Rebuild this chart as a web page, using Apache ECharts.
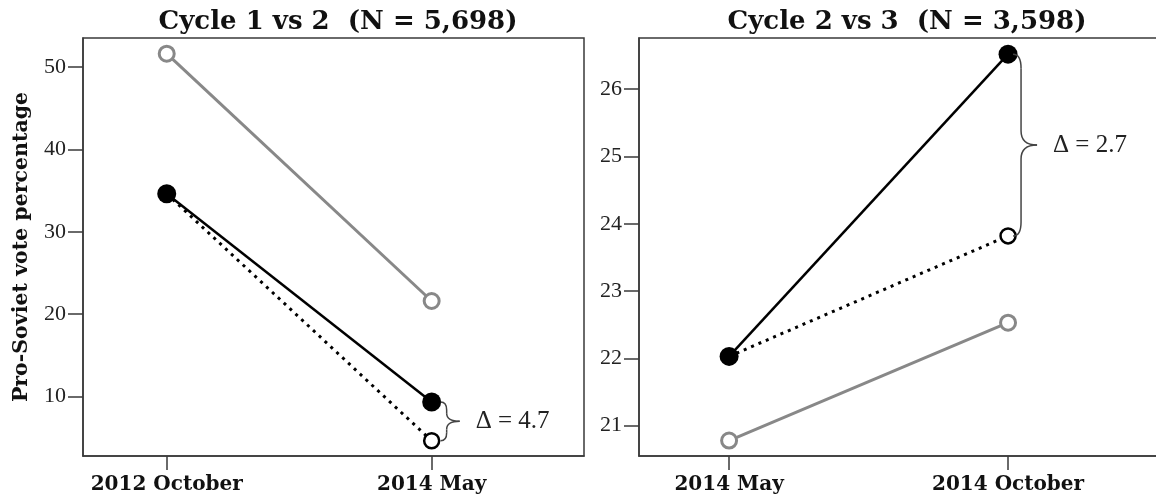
<!DOCTYPE html>
<html><head><meta charset="utf-8">
<script src="https://cdn.jsdelivr.net/npm/echarts@6/dist/echarts.min.js"></script>
<style>html,body{margin:0;padding:0;background:#fff}#c{width:1156px;height:497px}</style>
</head><body><div id="c"></div>
<script>
// ---- data ----
const titles = ['Cycle 1 vs 2  (N = 5,698)', 'Cycle 2 vs 3  (N = 3,598)'];
const yAxisName = 'Pro-Soviet vote percentage';
const catsLeft = ['2012 October', '2014 May'];
const catsRight = ['2014 May', '2014 October'];
const leftGray = [51.6, 21.6];
const leftBlack = [34.6, 9.35];
const leftDotted = [34.6, 4.65];
const rightGray = [20.78, 22.53];
const rightBlack = [22.03, 26.52];
const rightDotted = [22.03, 23.82];
const leftTicks = [10, 20, 30, 40, 50];
const rightTicks = [21, 22, 23, 24, 25, 26];
const deltaLabels = ['Δ = 4.7', 'Δ = 2.7'];

const pts = a => a.map((v, i) => [i, v]);
const axisCol = '#3a3a3a';
const serifB = 'DejaVu Serif';
const serif = 'Liberation Serif';

function xAxis(gi, cats, min, max) {
  return {
    type: 'value', gridIndex: gi, min: min, max: max,
    splitLine: {show: false},
    axisLine: {onZero: false, lineStyle: {color: axisCol, width: 1.5}},
    axisTick: {length: 14, lineStyle: {color: axisCol, width: 1.5}, customValues: cats.map((c, i) => i)},
    axisLabel: {customValues: cats.map((c, i) => i), formatter: v => cats[Math.round(v)] || '',
      fontFamily: serifB, fontWeight: 'bold', fontSize: 20, color: '#111', margin: 19}
  };
}
function yAxis(gi, ticks, min, max, name) {
  return {
    type: 'value', gridIndex: gi, min: min, max: max,
    name: name || '', nameLocation: 'middle', nameGap: 51,
    nameTextStyle: {fontFamily: serifB, fontWeight: 'bold', fontSize: 20.5, color: '#111'},
    splitLine: {show: false},
    axisLine: {show: true, onZero: false, lineStyle: {color: axisCol, width: 1.5}},
    axisTick: {show: true, length: 15, lineStyle: {color: axisCol, width: 1.5}, customValues: ticks},
    axisLabel: {customValues: ticks, fontFamily: serif, fontSize: 22, color: '#222', margin: 17}
  };
}
function lineSeries(gi, data, kind) {
  const base = {type: 'line', xAxisIndex: gi, yAxisIndex: gi, data: pts(data), animation: false, symbol: 'circle'};
  if (kind === 'gray') return Object.assign(base, {z: 2, symbolSize: 15,
    lineStyle: {color: '#888', width: 3}, itemStyle: {color: '#fff', borderColor: '#888', borderWidth: 3}});
  if (kind === 'dotted') return Object.assign(base, {z: 3, symbolSize: 15,
    symbol: (v, p) => p.dataIndex === 0 ? 'none' : 'circle',
    lineStyle: {color: '#000', width: 3, type: [3, 5]}, itemStyle: {color: '#fff', borderColor: '#000', borderWidth: 2.5}});
  return Object.assign(base, {z: 4, symbolSize: 19,
    lineStyle: {color: '#000', width: 2.5}, itemStyle: {color: '#000', borderWidth: 0}});
}
function braceSeries(gi, xi, yTop, yBot, label, off) {
  return {
    type: 'custom', xAxisIndex: gi, yAxisIndex: gi, z: 5, animation: false, silent: true,
    data: [[xi, yTop, yBot]],
    renderItem: function (params, api) {
      const p1 = api.coord([api.value(0), api.value(1)]);
      const p2 = api.coord([api.value(0), api.value(2)]);
      const a = p1[0] + off[0], b = p1[0] + off[1], c = p1[0] + off[2];
      const y0 = p1[1], y1 = p2[1], ym = (y0 + y1) / 2;
      const r = Math.min(off[3], (y1 - y0) / 4);
      const st = {stroke: '#444', lineWidth: 1.5, fill: null};
      return {type: 'group', children: [
        {type: 'bezierCurve', shape: {x1: a, y1: y0, cpx1: b, cpy1: y0, x2: b, y2: y0 + r}, style: st},
        {type: 'line', shape: {x1: b, y1: y0 + r, x2: b, y2: ym - r}, style: st},
        {type: 'bezierCurve', shape: {x1: b, y1: ym - r, cpx1: b, cpy1: ym, x2: c, y2: ym}, style: st},
        {type: 'bezierCurve', shape: {x1: c, y1: ym, cpx1: b, cpy1: ym, x2: b, y2: ym + r}, style: st},
        {type: 'line', shape: {x1: b, y1: ym + r, x2: b, y2: y1 - r}, style: st},
        {type: 'bezierCurve', shape: {x1: b, y1: y1 - r, cpx1: b, cpy1: y1, x2: a, y2: y1}, style: st},
        {type: 'text', style: {x: c + 16, y: ym, text: label, fill: '#222',
          font: '25px "Liberation Serif"', verticalAlign: 'middle', align: 'left'}}
      ]};
    }
  };
}

const chart = echarts.init(document.getElementById('c'), null, {renderer: 'canvas'});
chart.setOption({
  backgroundColor: '#fff',
  animation: false,
  title: [
    {text: titles[0], left: 333, top: 4, textAlign: 'center',
      textStyle: {fontFamily: serifB, fontWeight: 'bold', fontSize: 26, color: '#111'}},
    {text: titles[1], left: 902, top: 4, textAlign: 'center',
      textStyle: {fontFamily: serifB, fontWeight: 'bold', fontSize: 26, color: '#111'}}
  ],
  grid: [
    {left: 83, top: 38, width: 501, height: 418, outerBoundsMode: 'none', containLabel: false,
      show: true, borderColor: axisCol, borderWidth: 1.5, backgroundColor: 'transparent'},
    {left: 639, top: 38, width: 530, height: 418, outerBoundsMode: 'none', containLabel: false,
      show: true, borderColor: axisCol, borderWidth: 1.5, backgroundColor: 'transparent'}
  ],
  xAxis: [xAxis(0, catsLeft, -0.316, 1.575), xAxis(1, catsRight, -0.323, 1.577)],
  yAxis: [yAxis(0, leftTicks, 2.8, 53.5, yAxisName), yAxis(1, rightTicks, 20.55, 26.76)],
  series: [
    lineSeries(0, leftGray, 'gray'), lineSeries(0, leftDotted, 'dotted'), lineSeries(0, leftBlack, 'black'),
    lineSeries(1, rightGray, 'gray'), lineSeries(1, rightDotted, 'dotted'), lineSeries(1, rightBlack, 'black'),
    braceSeries(0, 1, leftBlack[1], leftDotted[1], deltaLabels[0], [9, 15, 28, 8]),
    braceSeries(1, 1, rightBlack[1], rightDotted[1], deltaLabels[1], [5, 13, 29, 14])
  ]
});
</script></body></html>
